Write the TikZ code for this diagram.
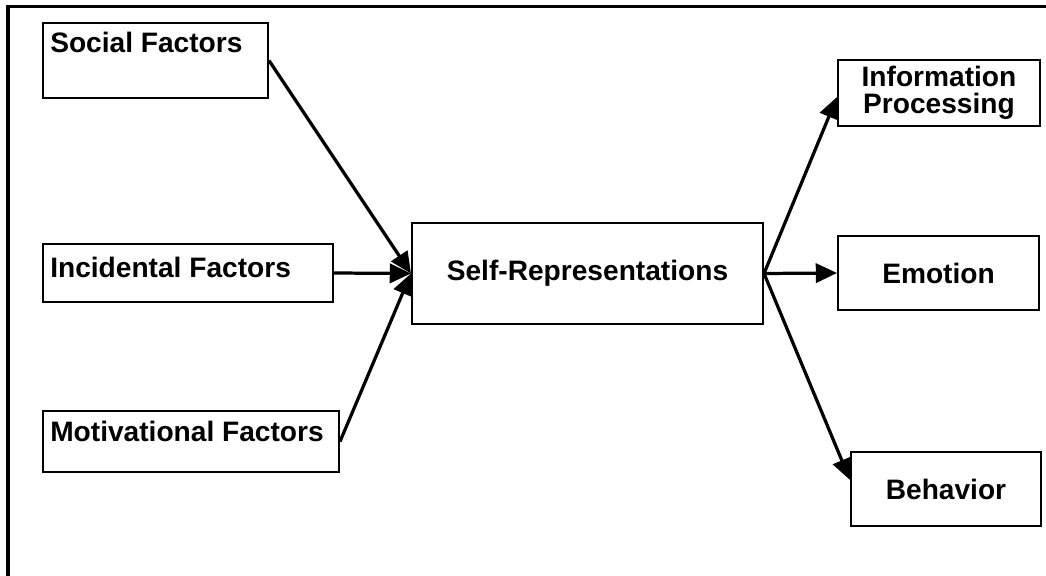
\documentclass[tikz,border=0pt]{standalone}
\usepackage{fontspec}
\setmainfont{Liberation Sans}
\usepackage{tikz}
\usetikzlibrary{arrows.meta}

\tikzset{
  box/.style={draw, line width=1.4pt, inner sep=0pt},
  txt/.style={font=\fontsize{20}{19.5}\selectfont\bfseries, inner sep=0pt},
  link/.style={line width=2.3pt, -{Triangle[length=0.53cm,width=0.48cm]}}
}

\begin{document}
\begin{tikzpicture}[x=0.025cm, y=-0.025cm]
    \useasboundingbox (0,0) rectangle (1046,576);

    % Frame (top and left only)
    \draw[line width=2.6pt] (8,576) -- (8,6.5) -- (1046,6.5);

    % Factor boxes
    \node[box, minimum width=5.625cm, minimum height=1.875cm] (social) at (155.5,60.5) {};
    \node[box, minimum width=7.25cm, minimum height=1.45cm] (incid) at (188,273) {};
    \node[box, minimum width=7.4cm, minimum height=1.525cm] (motiv) at (191,441.5) {};

    \node[txt, anchor=base west] (socialtxt) at (50,53) {Social Factors};
    \node[txt, anchor=base west] (incidtxt) at (50,278) {Incidental Factors};
    \node[txt, anchor=base west] (motivtxt) at (50,442) {Motivational Factors};

    % Centre box
    \node[box, txt, minimum width=8.775cm, minimum height=2.525cm] (self) at (587.5,273.5) {Self-Representations};

    % Outcome boxes
    \node[box, txt, align=center, minimum width=5.05cm, minimum height=1.65cm] (info) at (939,93) {Information\\Processing};
    \node[box, txt, minimum width=5.025cm, minimum height=1.85cm] (emotion) at (938.5,273) {Emotion};
    \node[box, txt, minimum width=4.75cm, minimum height=1.85cm] (behav) at (946,489) {Behavior};

    % Arrows in
    \foreach \src in {social, incid, motiv} {
      \draw[link] (\src.east) -- (self.west);
    }

    % Arrows out
    \draw[link] (self.east) -- ([yshift=-0.1cm]info.west);
    \draw[link] (self.east) -- (emotion.west);
    \draw[link] (self.east) -- ([yshift=0.225cm]behav.west);

\end{tikzpicture}
\end{document}
